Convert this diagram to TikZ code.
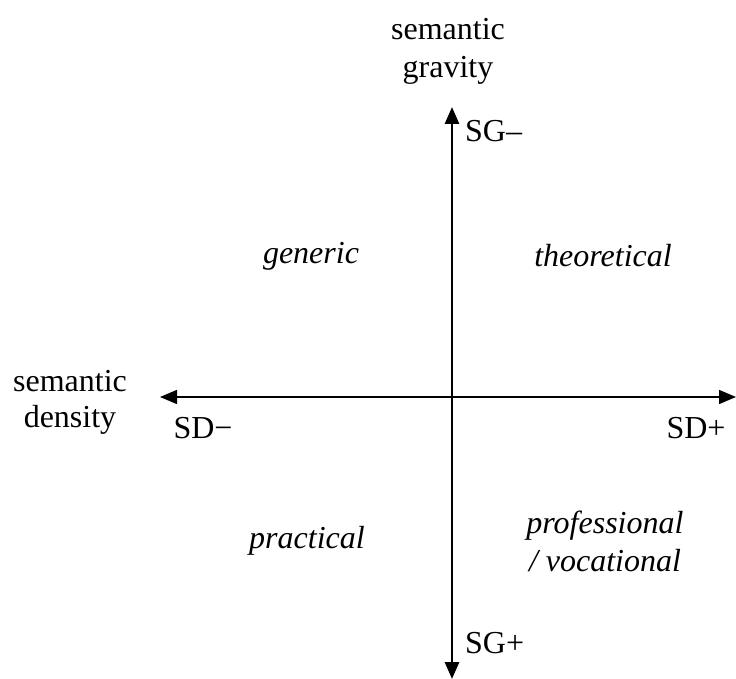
\documentclass[tikz,border=0pt]{standalone}
\usepackage{fontspec}
\setmainfont{Liberation Serif}
\usetikzlibrary{arrows.meta,positioning}

\tikzset{
    lbl/.style={font=\fontsize{32}{38}\selectfont, inner sep=1pt},
    quad/.style={lbl, font=\fontsize{32}{38}\selectfont\itshape, align=center},
    axis/.style={-{Triangle[length=17pt,width=14pt]}},
}

\begin{document}
\begin{tikzpicture}[x=1pt, y=-1pt]
    \useasboundingbox (0,0) rectangle (736,679);

    % Axis end points
    \coordinate (top) at (452,107);
    \coordinate (bottom) at (452,679);
    \coordinate (left) at (160,397);
    \coordinate (right) at (736,397);
    \coordinate (origin) at (452,397);

    % Axes
    \draw[axis, line width=2.8pt] (origin) -- (top);
    \draw[axis, line width=2.8pt] (origin) -- (bottom);
    \draw[axis, line width=1.5pt] (origin) -- (left);
    \draw[axis, line width=1.5pt] (origin) -- (right);

    % Axis titles
    \node[lbl, align=center] (sgtitle) at (448,51) {semantic\\gravity};
    \node[lbl, align=center, font=\fontsize{32}{36}\selectfont] (sdtitle) at (70,402) {semantic\\density};

    % Pole labels
    \node[lbl, anchor=west] (sgminus) at (464,131) {SG–};
    \node[lbl, anchor=west] (sgplus) at (464,643) {SG+};
    \node[lbl] (sdminus) at (203,428) {SD−};
    \node[lbl] (sdplus) at (696,428) {SD+};

    % Quadrants
    \node[quad] (generic) at (311,256) {generic};
    \node[quad] (theoretical) at (603,256) {theoretical};
    \node[quad] (practical) at (307,541) {practical};
    \node[quad] (professional) at (605,541) {professional\\/ vocational};
\end{tikzpicture}
\end{document}
